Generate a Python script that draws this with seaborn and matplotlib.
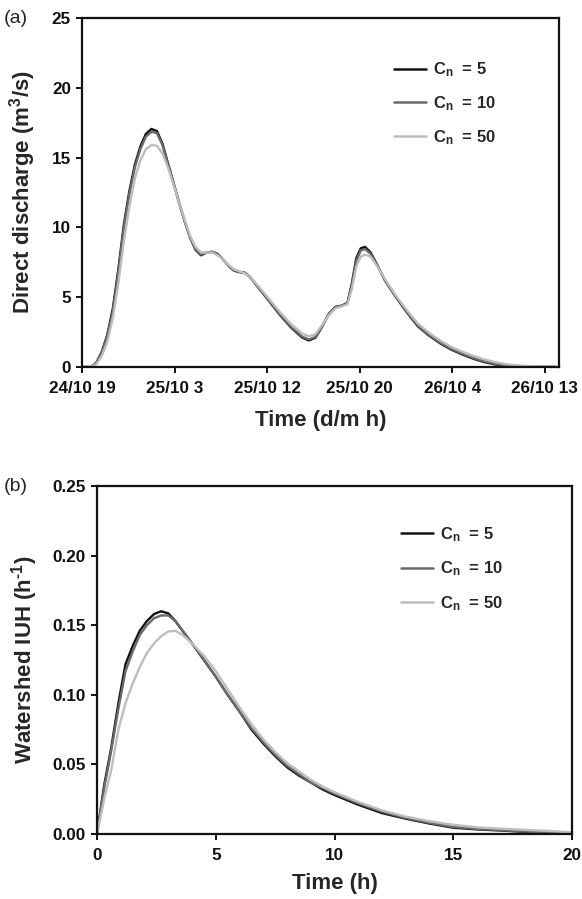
import matplotlib
matplotlib.use("Agg")
import matplotlib.pyplot as plt
import seaborn as sns
import pandas as pd

# ---- (a) direct discharge hydrographs, hours since 24/10 19:00 ----
hours_a = [0, 0.8, 1.3, 1.8, 2.3, 2.8, 3.3, 3.8, 4.3, 4.8, 5.3, 5.8, 6.3, 6.8,
           7.3, 7.8, 8.3, 8.8, 9.3, 9.8, 10.3, 10.8, 11.3, 11.8, 12.3, 12.8,
           13.3, 13.8, 14.3, 14.8, 15.3, 16, 17, 18, 19, 20, 20.6, 21.2, 21.8,
           22.4, 23, 23.6, 24.1, 24.5, 24.9, 25.3, 25.7, 26.2, 26.8, 27.5, 28.5,
           29.5, 30.5, 31.5, 32.5, 33.5, 34.5, 35.5, 36.5, 37.5, 38.5, 39.5,
           40.5, 41.5, 43]
q_cn5 = [0, 0, 0.3, 1.1, 2.3, 4.2, 7.0, 10.2, 12.6, 14.5, 15.8, 16.7, 17.05,
         16.9, 16.0, 14.6, 13.2, 11.8, 10.5, 9.3, 8.4, 8.0, 8.2, 8.25, 8.1,
         7.7, 7.25, 6.9, 6.8, 6.75, 6.4, 5.7, 4.7, 3.7, 2.8, 2.1, 1.9, 2.1,
         2.9, 3.8, 4.3, 4.4, 4.6, 6.0, 7.8, 8.5, 8.6, 8.2, 7.3, 6.2, 5.0, 3.9,
         2.9, 2.25, 1.7, 1.25, 0.9, 0.6, 0.35, 0.18, 0.08, 0.03, 0.01, 0, 0]
q_cn10 = [0, 0, 0.28, 1.05, 2.2, 4.0, 6.8, 10.0, 12.4, 14.3, 15.6, 16.5, 16.85,
          16.75, 15.9, 14.55, 13.2, 11.8, 10.5, 9.3, 8.45, 8.05, 8.2, 8.25,
          8.1, 7.7, 7.25, 6.9, 6.8, 6.72, 6.4, 5.72, 4.73, 3.75, 2.85, 2.17,
          1.97, 2.15, 2.93, 3.8, 4.28, 4.38, 4.57, 5.9, 7.6, 8.35, 8.45, 8.1,
          7.28, 6.22, 5.03, 3.94, 2.95, 2.3, 1.75, 1.3, 0.95, 0.65, 0.4, 0.22,
          0.11, 0.05, 0.02, 0.01, 0]
q_cn50 = [0, 0, 0.2, 0.8, 1.8, 3.5, 6.0, 9.0, 11.5, 13.5, 14.8, 15.6, 15.9,
          15.85, 15.3, 14.3, 13.1, 11.8, 10.6, 9.4, 8.6, 8.2, 8.2, 8.2, 8.0,
          7.7, 7.3, 7.0, 6.85, 6.7, 6.4, 5.8, 4.85, 3.9, 3.05, 2.4, 2.2, 2.35,
          3.0, 3.7, 4.2, 4.35, 4.5, 5.6, 7.2, 7.9, 8.05, 7.9, 7.2, 6.3, 5.1,
          4.05, 3.1, 2.45, 1.9, 1.45, 1.1, 0.8, 0.55, 0.35, 0.2, 0.12, 0.06,
          0.03, 0.01]
ticks_a = [0, 8.4, 16.8, 25.2, 33.6, 42.0]
tick_labels_a = ["24/10 19", "25/10 3", "25/10 12", "25/10 20", "26/10 4", "26/10 13"]

# ---- (b) watershed instantaneous unit hydrographs ----
hours_b = [0, 0.3, 0.6, 0.9, 1.2, 1.5, 1.8, 2.1, 2.4, 2.7, 3.0, 3.3, 3.6, 4.0,
           4.5, 5, 5.5, 6, 6.5, 7, 7.5, 8, 8.5, 9, 9.5, 10, 11, 12, 13, 14, 15,
           16, 17, 18, 19, 20]
iuh_cn5 = [0, 0.035, 0.062, 0.094, 0.122, 0.135, 0.146, 0.153, 0.158, 0.160,
           0.1585, 0.153, 0.146, 0.137, 0.125, 0.113, 0.100, 0.088, 0.075,
           0.065, 0.056, 0.048, 0.042, 0.037, 0.032, 0.028, 0.021, 0.015,
           0.011, 0.0075, 0.0045, 0.0033, 0.0025, 0.0015, 0.001, 0.0005]
iuh_cn10 = [0, 0.033, 0.060, 0.090, 0.117, 0.131, 0.143, 0.150, 0.155, 0.157,
            0.157, 0.153, 0.146, 0.137, 0.125, 0.113, 0.100, 0.088, 0.076,
            0.066, 0.057, 0.049, 0.043, 0.037, 0.033, 0.029, 0.022, 0.016,
            0.0115, 0.008, 0.005, 0.0037, 0.0028, 0.0018, 0.0012, 0.0006]
iuh_cn50 = [0, 0.025, 0.046, 0.075, 0.094, 0.108, 0.120, 0.130, 0.137, 0.142,
            0.1455, 0.146, 0.143, 0.137, 0.128, 0.117, 0.104, 0.091, 0.079,
            0.068, 0.059, 0.051, 0.045, 0.039, 0.034, 0.030, 0.023, 0.017,
            0.0125, 0.0092, 0.0066, 0.0048, 0.0038, 0.003, 0.0022, 0.0012]

series_names = [r"C$_\mathregular{n}$  = 5", r"C$_\mathregular{n}$  = 10",
                r"C$_\mathregular{n}$  = 50"]
line_colors = ["#111111", "#6a6a6a", "#bdbdbd"]

sns.set_theme(style="ticks")
plt.rcParams["font.family"] = ["Liberation Sans", "DejaVu Sans"]
plt.rcParams["mathtext.fontset"] = "custom"
plt.rcParams["mathtext.rm"] = "Liberation Sans:bold"
plt.rcParams["mathtext.it"] = "Liberation Sans:bold"
plt.rcParams["mathtext.bf"] = "Liberation Sans:bold"

df_a = pd.concat([
    pd.DataFrame({"t": hours_a, "q": q_cn5, "s": series_names[0]}),
    pd.DataFrame({"t": hours_a, "q": q_cn10, "s": series_names[1]}),
    pd.DataFrame({"t": hours_a, "q": q_cn50, "s": series_names[2]}),
])
df_b = pd.concat([
    pd.DataFrame({"t": hours_b, "q": iuh_cn5, "s": series_names[0]}),
    pd.DataFrame({"t": hours_b, "q": iuh_cn10, "s": series_names[1]}),
    pd.DataFrame({"t": hours_b, "q": iuh_cn50, "s": series_names[2]}),
])
palette = dict(zip(series_names, line_colors))

fig = plt.figure(figsize=(5.82, 8.99), dpi=100)
ax_a = fig.add_axes([0.1409, 0.5918, 0.8196, 0.3882])
ax_b = fig.add_axes([0.1667, 0.0723, 0.8162, 0.3871])

label_font = dict(fontsize=16, fontweight="bold")


def style_axes(ax, legend_anchor, spacing):
    for sp in ax.spines.values():
        sp.set_linewidth(1.6)
        sp.set_color("#111111")
    ax.tick_params(direction="out", length=4, width=1.4, colors="#111111",
                   labelsize=12.3)
    ax.tick_params(axis="x", pad=6)
    ax.tick_params(axis="y", pad=4)
    for lab in ax.get_xticklabels() + ax.get_yticklabels():
        lab.set_fontweight("bold")
    leg = ax.legend(loc="upper left", bbox_to_anchor=legend_anchor, frameon=False,
                    fontsize=12, handlelength=1.9, handletextpad=0.42,
                    labelspacing=spacing, borderaxespad=0.0, borderpad=0.0)
    for txt in leg.get_texts():
        txt.set_fontweight("bold")
    for ln in leg.get_lines():
        ln.set_linewidth(1.8)


# panel (a)
sns.lineplot(data=df_a, x="t", y="q", hue="s", palette=palette, ax=ax_a,
             linewidth=1.7, sort=False, estimator=None)
ax_a.set_xlim(0, 43.3)
ax_a.set_ylim(0, 25)
ax_a.set_xticks(ticks_a)
ax_a.set_xticklabels(tick_labels_a)
ax_a.set_yticks([0, 5, 10, 15, 20, 25])
ax_a.set_xlabel("Time (d/m h)", labelpad=10, **label_font)
ax_a.set_ylabel(r"Direct discharge (m$^\mathregular{3}$/s)", labelpad=10, **label_font)
style_axes(ax_a, (0.654, 0.878), 0.9)
fig.text(0.007, 0.979, "(a)", fontsize=14, ha="left", va="center")

# panel (b)
sns.lineplot(data=df_b, x="t", y="q", hue="s", palette=palette, ax=ax_b,
             linewidth=1.7, sort=False, estimator=None)
ax_b.set_xlim(0, 20)
ax_b.set_ylim(0, 0.25)
ax_b.set_xticks([0, 5, 10, 15, 20])
ax_b.set_yticks([0, 0.05, 0.10, 0.15, 0.20, 0.25])
ax_b.set_yticklabels(["0.00", "0.05", "0.10", "0.15", "0.20", "0.25"])
ax_b.set_xlabel("Time (h)", labelpad=7, **label_font)
ax_b.set_ylabel("Watershed IUH (h$^\\mathregular{\\text{-}1}$)", labelpad=9, **label_font)
style_axes(ax_b, (0.64, 0.888), 0.95)
fig.text(0.007, 0.459, "(b)", fontsize=14, ha="left", va="center")

fig.savefig("out.png", dpi=100)
